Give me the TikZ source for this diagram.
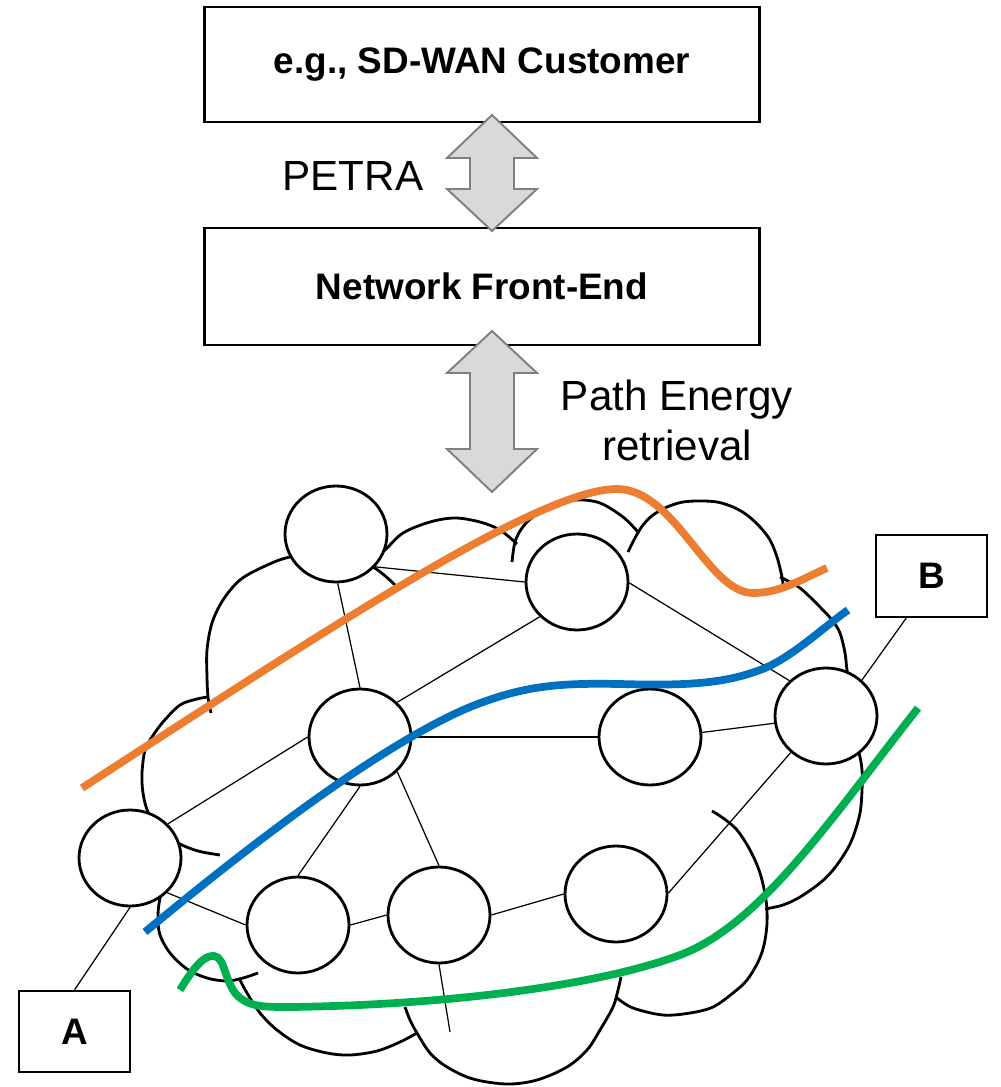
\documentclass[tikz,border=0pt]{standalone}
\usepackage{fontspec}
\setmainfont{Liberation Sans}
\usetikzlibrary{shapes.geometric}
\definecolor{porange}{HTML}{ED7D31}
\definecolor{pblue}{HTML}{0070C0}
\definecolor{pgreen}{HTML}{00B050}
\definecolor{arrowfill}{HTML}{D9D9D9}
\definecolor{arrowline}{HTML}{7F7F7F}
\begin{document}
\begin{tikzpicture}[x=0.02cm,y=-0.02cm,
  box/.style={draw, line width=1.3pt, inner sep=0pt, font=\bfseries\fontsize{21}{25}\selectfont},
  netnode/.style={ellipse, draw, fill=white, line width=1.6pt, minimum width=2.04cm, minimum height=1.92cm, inner sep=0pt},
  link/.style={line width=0.7pt},
  cloudarc/.style={line width=1.6pt},
  route/.style={line width=4.4pt},
  blockarrow/.style={fill=arrowfill, draw=arrowline, line width=1.1pt, line join=miter},
  lbl/.style={font=\fontsize{24}{28.5}\selectfont, inner sep=0pt}
]
\useasboundingbox (0,0) rectangle (1000,1087);

% boxes
\node[box, minimum width=11.1cm, minimum height=2.3cm] (cust) at (482,64.5) {e.g., SD-WAN Customer};
\node[box, minimum width=11.1cm, minimum height=2.34cm] (nfe) at (482,286.5) {Network Front-End};
\node[box, minimum width=2.22cm, minimum height=1.62cm] (A) at (74.5,1031.5) {A};
\node[box, minimum width=2.22cm, minimum height=1.64cm] (B) at (931.5,576) {B};

% block arrows
\path[blockarrow] (492,115) -- (537,158) -- (514,158) -- (514,189) -- (537,189) -- (492,231)
  -- (447,189) -- (470,189) -- (470,158) -- (447,158) -- cycle;
\path[blockarrow] (492,331) -- (537,373) -- (514,373) -- (514,449) -- (537,449) -- (492,492)
  -- (447,449) -- (470,449) -- (470,373) -- (447,373) -- cycle;

% labels
\node[lbl] (petra) at (353,176) {PETRA};
\node[lbl, align=center] (pe) at (677,420) {Path Energy\\retrieval};

% cloud lobes
\draw[cloudarc] plot[smooth, tension=0.55] coordinates {(395,585) (373,567) (335,552) (290,557) (263,567) (240,580) (223,600) (212,623) (207,650) (207,677) (208,697) (211,713)};
\draw[cloudarc] plot[smooth, tension=0.55] coordinates {(208,697) (197,699) (180,705) (163,722) (152,737) (145,750) (142,773) (143,793) (148,812) (160,830) (178,843) (198,851) (220,855)};
\draw[cloudarc] plot[smooth, tension=0.55] coordinates {(168,868) (160,898) (158,917) (160,935) (170,953) (187,969) (207,978) (227,981) (243,978) (258,973)};
\draw[cloudarc] plot[smooth, tension=0.55] coordinates {(240,980) (247,993) (260,1013) (277,1030) (300,1045) (327,1053) (350,1055) (377,1051) (400,1042) (417,1033)};
\draw[cloudarc] plot[smooth, tension=0.55] coordinates {(405,1007) (410,1020) (417,1033) (430,1053) (447,1067) (473,1079) (507,1084) (537,1080) (567,1067) (587,1050) (600,1030) (613,1007) (618,990) (621,977)};
\draw[cloudarc] plot[smooth, tension=0.55] coordinates {(617,998) (633,1008) (663,1015) (690,1013) (713,1007) (733,993) (747,980) (758,962) (764,945) (767,923) (766,900) (760,873) (750,850) (737,830) (723,818) (712,811)};
\draw[cloudarc] plot[smooth, tension=0.55] coordinates {(765,909) (783,905) (800,897) (820,883) (833,870) (845,853) (853,837) (860,813) (862,790) (862,770) (859,753) (852,735)};
\draw[cloudarc] plot[smooth, tension=0.55] coordinates {(852,700) (847,670) (845,653) (840,633) (832,620) (820,607) (810,597) (800,588) (790,582) (780,577)};
\draw[cloudarc] plot[smooth, tension=0.55] coordinates {(783,585) (782,577) (777,557) (770,540) (760,527) (747,515) (733,507) (717,502) (700,501) (683,502) (667,507) (653,515) (643,525) (635,538) (628,552)};
\draw[cloudarc] plot[smooth, tension=0.55] coordinates {(638,532) (623,517) (600,503) (577,500) (555,505) (533,517) (522,528) (515,542) (512,562)};
\draw[cloudarc] plot[smooth, tension=0.55] coordinates {(372,560) (385,550) (403,533) (430,522) (455,518) (480,522) (500,530) (517,544)};

% network nodes
\node[netnode] (N1) at (336,534) {};
\node[netnode] (N2) at (577,582) {};
\node[netnode] (N3) at (360,737) {};
\node[netnode] (N4) at (650,737) {};
\node[netnode] (N5) at (826,716) {};
\node[netnode] (N6) at (130,858) {};
\node[netnode] (N7) at (298,925) {};
\node[netnode] (N8) at (439,915) {};
\node[netnode] (N9) at (616,894) {};
\coordinate (stub) at (450,1032);

% links
\draw[link] (N1.-40) -- (N2.180);
\draw[link] (N1.-88) -- (N3.90);
\draw[link] (N3.43) -- (N2.223);
\draw[link] (N3.0) -- (N4.180);
\draw[link] (N2.-1) -- (N5.136);
\draw[link] (N4.5) -- (N5.188);
\draw[link] (N5.45) -- (B.-121);
\draw[link] (N5.226) -- (N9.1);
\draw[link] (N3.180) -- (N6.42);
\draw[link] (N3.-90) -- (N7.90);
\draw[link] (N3.-43) -- (N8.90);
\draw[link] (N6.-43) -- (N7.180);
\draw[link] (N7.0) -- (N8.180);
\draw[link] (N8.0) -- (N9.180);
\draw[link] (N6.-90) -- (A.north);
\draw[link] (N8.-90) -- (stub);

% routes
\draw[route, porange] (82,788) .. controls (330,627) and (540,489) .. (617,489)
  .. controls (675,489) and (708,593) .. (753,593)
  .. controls (780,593) and (800,580) .. (827,568);
\draw[route, pblue] (145,932) .. controls (250,845) and (380,745) .. (470,707)
  .. controls (525,685) and (560,683) .. (620,684)
  .. controls (690,686) and (725,683) .. (760,670)
  .. controls (790,659) and (820,630) .. (848,610);
\draw[route, pgreen] (180,990) .. controls (195,965) and (205,955) .. (214,956)
  .. controls (226,957) and (224,985) .. (240,998)
  .. controls (252,1007) and (265,1007) .. (290,1007)
  .. controls (450,1005) and (600,985) .. (680,955)
  .. controls (760,925) and (830,820) .. (918,708);
\end{tikzpicture}
\end{document}
